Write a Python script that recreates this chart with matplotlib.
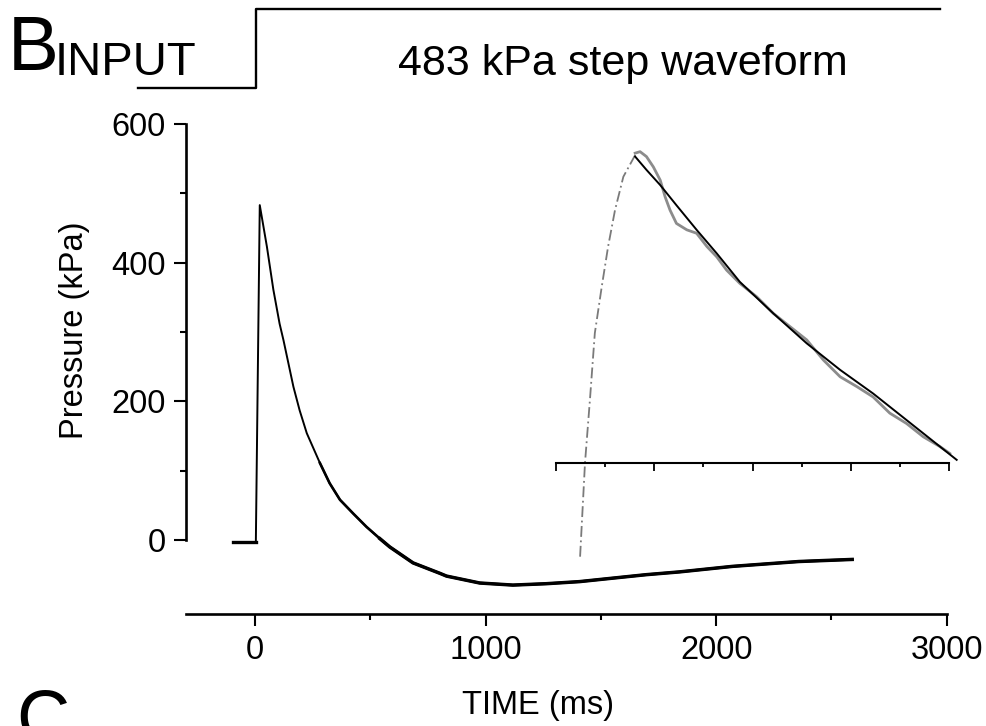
import matplotlib
matplotlib.use("Agg")
import matplotlib.pyplot as plt
from matplotlib.ticker import MultipleLocator, FixedLocator, NullFormatter

plt.rcParams['font.family'] = ['Liberation Sans', 'DejaVu Sans']

# pressure trace (ms, kPa)
time_ms = [-95, -60, -30, 0, 3, 20, 51, 79, 106, 123, 166, 193, 224, 281, 323,
           368, 426, 483, 541, 584, 685, 801, 830, 974, 1118, 1263, 1407, 1551,
           1696, 1840, 2071, 2359, 2590]
pressure = [-3, -3, -3, -3, -3, 483, 423, 361, 312, 288, 221, 187, 154, 111, 82,
            58, 38, 19, 2, -10, -33, -48, -52, -62, -65, -63, -60, -55,
            -50, -46, -38, -31, -28]

# input step waveform (normalised)
step_t = [-510, 5, 5, 2970]
step_level = [0, 0, 1, 1]

# inset: zoom on the peak, in tick units
rise_u = [0.49, 0.59, 0.69, 0.79, 0.93, 1.06, 1.20, 1.37, 1.61]
rise_v = [-1.90, 0.01, 1.29, 2.65, 3.59, 4.41, 5.15, 5.83, 6.27]
decay_u = [1.61, 1.71, 1.84, 1.98, 2.12, 2.22, 2.32, 2.45, 2.66, 2.86, 3.07, 3.27,
           3.47, 3.74, 4.08, 4.42, 4.76, 5.10, 5.44, 5.78, 6.12, 6.45, 6.79, 7.13,
           7.47, 7.81, 8.01]
decay_v = [6.31, 6.34, 6.24, 6.03, 5.76, 5.42, 5.15, 4.88, 4.75, 4.68, 4.41, 4.20,
           3.93, 3.66, 3.39, 3.05, 2.78, 2.51, 2.10, 1.76, 1.56, 1.35, 1.02, 0.81,
           0.54, 0.34, 0.20]
fit_u = [1.61, 1.84, 2.12, 2.45, 2.86, 3.27, 3.74, 4.42, 5.10, 5.78, 6.45, 7.13, 8.15]
fit_v = [6.24, 5.97, 5.66, 5.25, 4.75, 4.27, 3.69, 3.05, 2.44, 1.90, 1.42, 0.88, 0.07]

W, H = 987, 726
fig = plt.figure(figsize=(W / 100, H / 100), dpi=100)

def rect(x0, y_top, x1, y_bot):
    return [x0 / W, 1 - y_bot / H, (x1 - x0) / W, (y_bot - y_top) / H]

# main axes
ax = fig.add_axes(rect(186, 124, 946.7, 614))
ax.plot(time_ms, pressure, color='k', lw=1.4, solid_joinstyle='round')
ax.plot(time_ms[:5], pressure[:5], color='k', lw=2.4)
ax.plot(time_ms[13:], pressure[13:], color='k', lw=1.9)
ax.plot(time_ms[18:], pressure[18:], color='k', lw=2.5)
ax.set_xlim(-300, 3000)
ax.set_ylim(-106.7, 600)
for s in ['top', 'right']:
    ax.spines[s].set_visible(False)
ax.spines['left'].set_bounds(0, 600)
for s in ['left', 'bottom']:
    ax.spines[s].set_linewidth(1.9)
ax.xaxis.set_major_locator(MultipleLocator(1000))
ax.xaxis.set_minor_locator(FixedLocator([500, 1500, 2500]))
ax.yaxis.set_major_locator(FixedLocator([0, 200, 400, 600]))
ax.yaxis.set_minor_locator(FixedLocator([100, 300, 500]))
ax.tick_params(which='major', length=8.6, width=1.5, labelsize=23.5, direction='out')
ax.tick_params(which='minor', length=4.3, width=1.5, direction='out')
ax.tick_params(axis='y', pad=5.8)
ax.tick_params(axis='x', pad=6.5)
ax.set_xlabel('TIME (ms)', fontsize=23.5)
ax.set_ylabel('Pressure (kPa)', fontsize=23.5)
ax.xaxis.set_label_coords(0.463, -0.155)
ax.yaxis.set_label_coords(-0.126, 0.58)
ax.patch.set_alpha(0)

# inset
ai = fig.add_axes(rect(556, 143.8, 949.3, 561.6))
ai.plot(rise_u, rise_v, color='#7a7a7a', lw=1.3, ls=(0, (6, 2, 1, 2)), clip_on=False)
ai.plot(decay_u, decay_v, color='#8c8c8c', lw=2.0, clip_on=False)
ai.plot(fit_u, fit_v, color='k', lw=1.4, clip_on=False)
ai.set_xlim(0, 8)
ai.set_ylim(-2, 6.5)
ai.patch.set_alpha(0)
for s in ['top', 'right', 'left']:
    ai.spines[s].set_visible(False)
ai.spines['bottom'].set_position(('data', 0))
ai.spines['bottom'].set_linewidth(1.5)
ai.set_yticks([])
ai.xaxis.set_major_locator(MultipleLocator(2))
ai.xaxis.set_minor_locator(MultipleLocator(1))
ai.xaxis.set_major_formatter(NullFormatter())
ai.tick_params(which='major', length=5.8, width=1.3, direction='out')
ai.tick_params(which='minor', length=3.0, width=1.3, direction='out')

# input step
ah = fig.add_axes(rect(186, 9, 946.7, 88), sharex=ax)
ah.plot(step_t, step_level, color='k', lw=1.7, clip_on=False)
ah.set_ylim(0, 1)
ah.axis('off')

fig.text(8 / W, 1 - 70 / H, 'B', fontsize=55, va='baseline', ha='left')
fig.text(55 / W, 1 - 75 / H, 'INPUT', fontsize=34, va='baseline', ha='left')
fig.text(398 / W, 1 - 75 / H, '483 kPa step waveform', fontsize=31, va='baseline', ha='left')
fig.text(16 / W, 1 - 688 / H, 'C', fontsize=53, va='top', ha='left')

fig.savefig('out.png', dpi=100)
